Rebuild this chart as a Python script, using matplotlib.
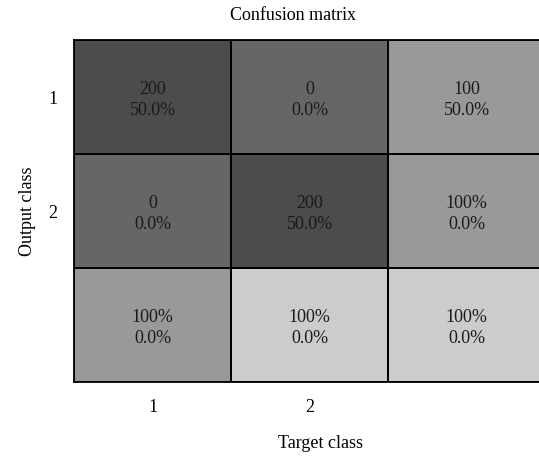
import matplotlib
matplotlib.use("Agg")
import matplotlib.pyplot as plt
import numpy as np

plt.rcParams['font.family'] = ['Liberation Serif', 'DejaVu Serif']

title = "Confusion matrix"
xlabel = "Target class"
ylabel = "Output class"
x_ticklabels = ["1", "2"]
y_ticklabels = ["1", "2"]

top_text = [["200", "0", "100"],
            ["0", "200", "100%"],
            ["100%", "100%", "100%"]]
bottom_text = [["50.0%", "0.0%", "50.0%"],
               ["0.0%", "50.0%", "0.0%"],
               ["0.0%", "0.0%", "0.0%"]]
# gray level of each cell (0 = black, 1 = white)
shade = np.array([[0.30, 0.40, 0.60],
                  [0.40, 0.30, 0.60],
                  [0.60, 0.80, 0.80]])

fig = plt.figure(figsize=(5.39, 4.58), dpi=100)
ax = fig.add_axes([74/539, 1-382/458, 471/539, 342/458])

nrows, ncols = shade.shape
ax.pcolormesh(np.arange(ncols+1), np.arange(nrows+1), shade, cmap='gray',
              vmin=0, vmax=1, edgecolors='black', linewidth=1.3)
ax.set_xlim(0, ncols)
ax.set_ylim(nrows, 0)

for i in range(nrows):
    for j in range(ncols):
        ax.text(j+0.5, i+0.53, top_text[i][j] + "\n" + bottom_text[i][j],
                ha='center', va='center', fontsize=13, color='#1a1a1a',
                linespacing=1.3)

ax.set_xticks(np.arange(len(x_ticklabels)) + 0.5)
ax.set_xticklabels(x_ticklabels, fontsize=13)
ax.set_yticks(np.arange(len(y_ticklabels)) + 0.5)
ax.set_yticklabels(y_ticklabels, fontsize=13)
ax.tick_params(length=0, pad=12)
for s in ax.spines.values():
    s.set_linewidth(1.3)

fig.text(293/539, 1-16/458, title, ha='center', va='center', fontsize=13)
fig.text(320/539, 1-443/458, xlabel, ha='center', va='center', fontsize=13)
fig.text(27/539, 1-211/458, ylabel, ha='center', va='center', fontsize=13, rotation=90)

fig.savefig("out.png", dpi=100)
